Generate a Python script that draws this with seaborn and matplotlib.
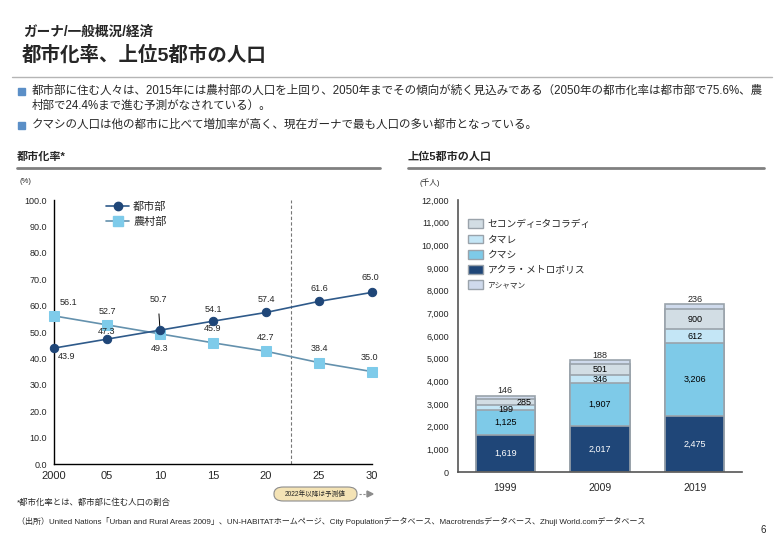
import numpy as np
import pandas as pd
import matplotlib
matplotlib.use('Agg')
import matplotlib.pyplot as plt
import seaborn as sns
from matplotlib.patches import Patch, FancyBboxPatch
from matplotlib.lines import Line2D

# ---- data ----
years = [2000, 2005, 2010, 2015, 2020, 2025, 2030]
year_labels = ['2000', '05', '10', '15', '20', '25', '30']
urban = [43.9, 47.3, 50.7, 54.1, 57.4, 61.6, 65.0]
rural = [56.1, 52.7, 49.3, 45.9, 42.7, 38.4, 35.0]
forecast_from = 2022.4

bar_years = ['1999', '2009', '2019']
accra = [1619, 2017, 2475]
kumasi = [1125, 1907, 3206]
tamale = [199, 346, 612]
sekondi = [285, 501, 900]
ashaiman = [146, 188, 236]

W, H = 780, 540
sns.set_theme(style='white')
plt.rcParams['font.family'] = ['Liberation Sans', 'Noto Sans CJK JP']

fig = plt.figure(figsize=(W / 100, H / 100), dpi=100)


def ftext(x, y, s, **kw):
    """place text with pixel coords measured from top-left"""
    kw.setdefault('va', 'center')
    return fig.text(x / W, 1 - y / H, s, **kw)


def fline(x0, x1, y, **kw):
    fig.add_artist(Line2D([x0 / W, x1 / W], [1 - y / H, 1 - y / H], **kw))


def add_ax(left, top, right, bottom):
    return fig.add_axes([left / W, 1 - bottom / H, (right - left) / W, (bottom - top) / H])


# ---- header ----
ftext(23, 32, 'ガーナ/一般概況/経済', fontsize=9.8, fontweight='bold')
ftext(22, 55, '都市化率、上位5都市の人口', fontsize=14, fontweight='bold')
fline(12, 772, 77, color='#b5b5b5', lw=1)

bullet_color = '#5b8fc7'
for yy in (91, 125):
    fig.add_artist(plt.Rectangle((18 / W, 1 - (yy + 3.5) / H), 7 / W, 7 / H,
                                 color=bullet_color, transform=fig.transFigure))
ftext(32, 91, '都市部に住む人々は、2015年には農村部の人口を上回り、2050年までその傾向が続く見込みである（2050年の都市化率は都市部で75.6%、農',
      fontsize=8.3)
ftext(32, 106, '村部で24.4%まで進む予測がなされている）。', fontsize=8.3)
ftext(32, 125, 'クマシの人口は他の都市に比べて増加率が高く、現在ガーナで最も人口の多い都市となっている。', fontsize=8.3)

ftext(17, 157, '都市化率*', fontsize=8, fontweight='bold')
fline(17, 380, 168, color='#808080', lw=2)
ftext(408, 157, '上位5都市の人口', fontsize=8, fontweight='bold')
fline(408, 764, 168, color='#808080', lw=2)

ftext(20, 181, '(%)', fontsize=5.5)
ftext(419, 183, '(千人)', fontsize=5.5)

# ---- left chart: urbanization rate ----
urban_c = '#1f4678'
urban_line = '#2f5a8a'
rural_c = '#7ecbea'
rural_line = '#6491ad'

ax1 = add_ax(54, 200, 372, 464)
df_line = pd.DataFrame({'year': years, 'urban': urban, 'rural': rural})
sns.lineplot(data=df_line, x='year', y='rural', ax=ax1, color=rural_line, lw=1.2,
             marker='s', markersize=6.5, markerfacecolor=rural_c, markeredgecolor=rural_c,
             clip_on=False, zorder=3)
sns.lineplot(data=df_line, x='year', y='urban', ax=ax1, color=urban_line, lw=1.2,
             marker='o', markersize=6, markerfacecolor=urban_c, markeredgecolor=urban_c,
             clip_on=False, zorder=4)
ax1.set_xlim(2000, 2030)
ax1.set_ylim(0, 100)
ax1.set_xticks(years)
ax1.set_xticklabels(year_labels, fontsize=8)
ax1.set_yticks(np.arange(0, 101, 10))
ax1.set_yticklabels([f'{v:.1f}' for v in np.arange(0, 101, 10)], fontsize=6.5)
ax1.set_xlabel('')
ax1.set_ylabel('')
for s in ('top', 'right'):
    ax1.spines[s].set_visible(False)
for s in ('left', 'bottom'):
    ax1.spines[s].set_color('black')
    ax1.spines[s].set_linewidth(1)
ax1.tick_params(axis='both', direction='out', length=3, width=0.8, color='black', pad=2)
ax1.axvline(forecast_from, color='#777777', lw=0.8, ls=(0, (3, 2)))

# data labels (offsets in pixels)
u_off = [(13, -8), (0, 8), (-2, 31), (0, 12), (0, 13), (0, 13), (-2, 15)]
r_off = [(14, 13), (0, 13), (0, -15), (0, 14), (0, 14), (0, 14), (-3, 14)]
for i, (x, v) in enumerate(zip(years, urban)):
    dx, dy = u_off[i]
    if i == 2:
        ax1.annotate(f'{v:.1f}', (x, v), xytext=(dx * 0.72, dy * 0.72), textcoords='offset points',
                     ha='center', va='center', fontsize=6.5,
                     arrowprops=dict(arrowstyle='-', color='black', lw=0.7, shrinkA=5, shrinkB=3))
    else:
        ax1.annotate(f'{v:.1f}', (x, v), xytext=(dx * 0.72, dy * 0.72), textcoords='offset points',
                     ha='center', va='center', fontsize=6.5)
for i, (x, v) in enumerate(zip(years, rural)):
    dx, dy = r_off[i]
    ax1.annotate(f'{v:.1f}', (x, v), xytext=(dx * 0.72, dy * 0.72), textcoords='offset points',
                 ha='center', va='center', fontsize=6.5)

h_u = Line2D([], [], color=urban_line, lw=1.2, marker='o', markersize=6,
             markerfacecolor=urban_c, markeredgecolor=urban_c)
h_r = Line2D([], [], color=rural_line, lw=1.2, marker='s', markersize=6.5,
             markerfacecolor=rural_c, markeredgecolor=rural_c)
ax1.legend([h_u, h_r], ['都市部', '農村部'], loc='upper left', bbox_to_anchor=(0.165, 0.995),
           frameon=False, fontsize=8, borderpad=0, borderaxespad=0, handlelength=2.0,
           handletextpad=0.4, labelspacing=0.45)

# forecast badge
badge = FancyBboxPatch((274 / W, 1 - 501 / H), 83 / W, 14 / H,
                       boxstyle='round,pad=0,rounding_size=0.012', transform=fig.transFigure,
                       facecolor='#f4e3b5', edgecolor='#8c8c8c', lw=0.8)
fig.add_artist(badge)
ftext(315.5, 494, '2022年以降は予測値', fontsize=4.8, ha='center')
fig.add_artist(Line2D([359 / W, 367 / W], [1 - 494 / H, 1 - 494 / H], color='#8c8c8c',
                      lw=0.8, ls=(0, (2, 1.5))))
fig.add_artist(plt.Polygon([[367 / W, 1 - 491 / H], [367 / W, 1 - 497 / H], [373 / W, 1 - 494 / H]],
                           closed=True, color='#8c8c8c', transform=fig.transFigure))

# ---- right chart: top 5 city population ----
c_accra = '#1f4678'
c_kumasi = '#7ecae8'
c_tamale = '#c4e6f6'
c_sekondi = '#d2dde4'
c_ashaiman = '#cfdaec'
edge = '#9aa3ab'

ax2 = add_ax(458, 200, 742, 472)
segments = [accra, kumasi, tamale, sekondi, ashaiman]
seg_colors = [c_accra, c_kumasi, c_tamale, c_sekondi, c_ashaiman]
cum = np.cumsum(np.array(segments), axis=0)
# draw cumulative totals from top segment down so each layer shows
for k in range(len(segments) - 1, -1, -1):
    df_bar = pd.DataFrame({'year': bar_years, 'value': cum[k]})
    sns.barplot(data=df_bar, x='year', y='value', ax=ax2, color=seg_colors[k],
                width=0.63, edgecolor=edge, linewidth=1.2, saturation=1)
ax2.set_xlim(-0.5, 2.5)
ax2.set_ylim(0, 12000)
ax2.set_yticks(np.arange(0, 12001, 1000))
ax2.set_yticklabels([f'{v:,}' for v in np.arange(0, 12001, 1000)], fontsize=6.5)
ax2.set_xticks([0, 1, 2])
ax2.set_xticklabels(bar_years, fontsize=7.5)
ax2.set_xticks([0.5, 1.5, 2.5], minor=True)
ax2.tick_params(axis='x', which='major', length=0, pad=8)
ax2.tick_params(axis='x', which='minor', length=4, width=1, color='#555555', direction='in')
ax2.tick_params(axis='y', length=3, width=1, color='#555555', direction='out', pad=3.5)
ax2.set_xlabel('')
ax2.set_ylabel('')
for s in ('top', 'right'):
    ax2.spines[s].set_visible(False)
for s in ('left', 'bottom'):
    ax2.spines[s].set_color('#555555')
    ax2.spines[s].set_linewidth(1.2)

for i in range(3):
    bottoms = np.concatenate([[0], cum[:, i]])
    for k in range(4):
        mid = (bottoms[k] + bottoms[k + 1]) / 2
        dx = 0.2 if (k == 3 and i == 0) else 0
        dy = -80 if (k == 2 and i == 0) else 0
        col = 'white' if k == 0 else 'black'
        ax2.text(i + dx, mid + dy, f'{segments[k][i]:,}', ha='center', va='center',
                 fontsize=6.5, color=col)
    ax2.text(i, cum[4, i] + 200, f'{segments[4][i]:,}', ha='center', va='center', fontsize=6.5)

leg_labels = ['セコンディ=タコラディ', 'タマレ', 'クマシ', 'アクラ・メトロポリス', 'アシャマン']
leg_colors = [c_sekondi, c_tamale, c_kumasi, c_accra, c_ashaiman]
handles = [Patch(facecolor=c, edgecolor=edge, lw=1) for c in leg_colors]
leg = ax2.legend(handles, leg_labels, loc='upper left', bbox_to_anchor=(0.035, 0.93),
                 frameon=False, fontsize=7, borderpad=0, borderaxespad=0,
                 handlelength=1.5, handleheight=1.0, handletextpad=0.5, labelspacing=0.55)
leg.get_texts()[-1].set_fontsize(5.5)

# ---- footnotes ----
ftext(17, 503, '*都市化率とは、都市部に住む人口の割合', fontsize=6)
ftext(17, 521, '（出所）United Nations「Urban and Rural Areas 2009」、UN-HABITATホームページ、City Populationデータベース、Macrotrendsデータベース、Zhuji World.comデータベース',
      fontsize=5.8)
ftext(763, 530, '6', fontsize=7, ha='center')

fig.savefig('out.png', dpi=100)
